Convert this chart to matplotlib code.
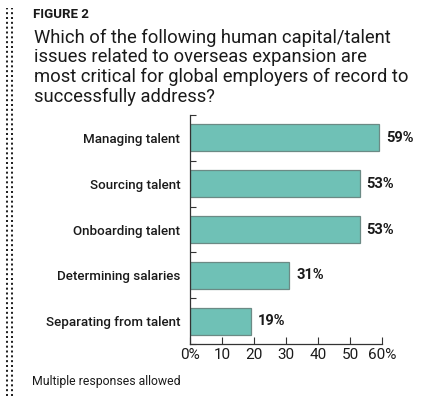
import matplotlib
matplotlib.use('Agg')
import matplotlib.pyplot as plt
from matplotlib.lines import Line2D

plt.rcParams['font.family'] = ['Roboto', 'DejaVu Sans']

# data, top to bottom
issues = ['Managing talent', 'Sourcing talent', 'Onboarding talent',
          'Determining salaries', 'Separating from talent']
shares = [59, 53, 53, 31, 19]
xticks = [0, 10, 20, 30, 40, 50, 60]
xtick_labels = ['0%', '10', '20', '30', '40', '50', '60%']

W, H = 425, 396
fig = plt.figure(figsize=(W / 100, H / 100), dpi=100)

# axes placed in pixel terms
left, right, top, bottom = 190, 382, 115, 344
ax = fig.add_axes([left / W, 1 - bottom / H, (right - left) / W, (bottom - top) / H])

ypos = list(range(len(issues)))
ax.barh(ypos, shares, height=0.59, color='#6fc1b6', edgecolor='#6b8a85', linewidth=0.9)
for y, v in zip(ypos, shares):
    ax.text(v + 2.2, y, f'{v}%', va='center', ha='left', fontsize=10.5,
            fontweight='bold', color='#1a1a1a')

ax.set_xlim(0, 60)
ax.set_ylim(len(issues) - 0.5, -0.5)
ax.set_xticks(xticks)
ax.set_xticklabels(xtick_labels, fontsize=11, color='#1a1a1a')
ax.set_yticks([y - 0.5 for y in range(len(issues) + 1)])
ax.set_yticklabels([])
ax.set_yticks(ypos, minor=True)
ax.set_yticklabels(issues, minor=True, fontsize=9.6, fontweight='medium', color='#1a1a1a')
ax.tick_params(axis='y', which='minor', length=0, pad=7)
ax.tick_params(axis='y', which='major', direction='in', length=4, width=0.8, color='#333333')
ax.tick_params(axis='x', direction='in', length=5, width=0.8, color='#333333', pad=3)
for s in ['top', 'right']:
    ax.spines[s].set_visible(False)
for s in ['left', 'bottom']:
    ax.spines[s].set_color('#333333')
    ax.spines[s].set_linewidth(0.9)

# header text
fig.text(33 / W, 1 - 14 / H, 'FIGURE 2', fontsize=9.5, fontweight='bold',
         va='center', ha='left', color='#1a1a1a')
fig.text(34 / W, 1 - 29 / H,
         'Which of the following human capital/talent\n'
         'issues related to overseas expansion are\n'
         'most critical for global employers of record to\n'
         'successfully address?',
         fontsize=13.2, va='top', ha='left', linespacing=1.1, color='#1a1a1a')
fig.text(32 / W, 1 - 382 / H, 'Multiple responses allowed', fontsize=8.8,
         va='center', ha='left', color='#1a1a1a')

# dotted rule on the left edge
for xp in (7, 12):
    fig.add_artist(Line2D([xp / W, xp / W], [0, 1 - 8 / H], transform=fig.transFigure,
                          color='#222222', linewidth=1.45, linestyle=(0, (1, 1.4))))

fig.savefig('out.png', dpi=100)
